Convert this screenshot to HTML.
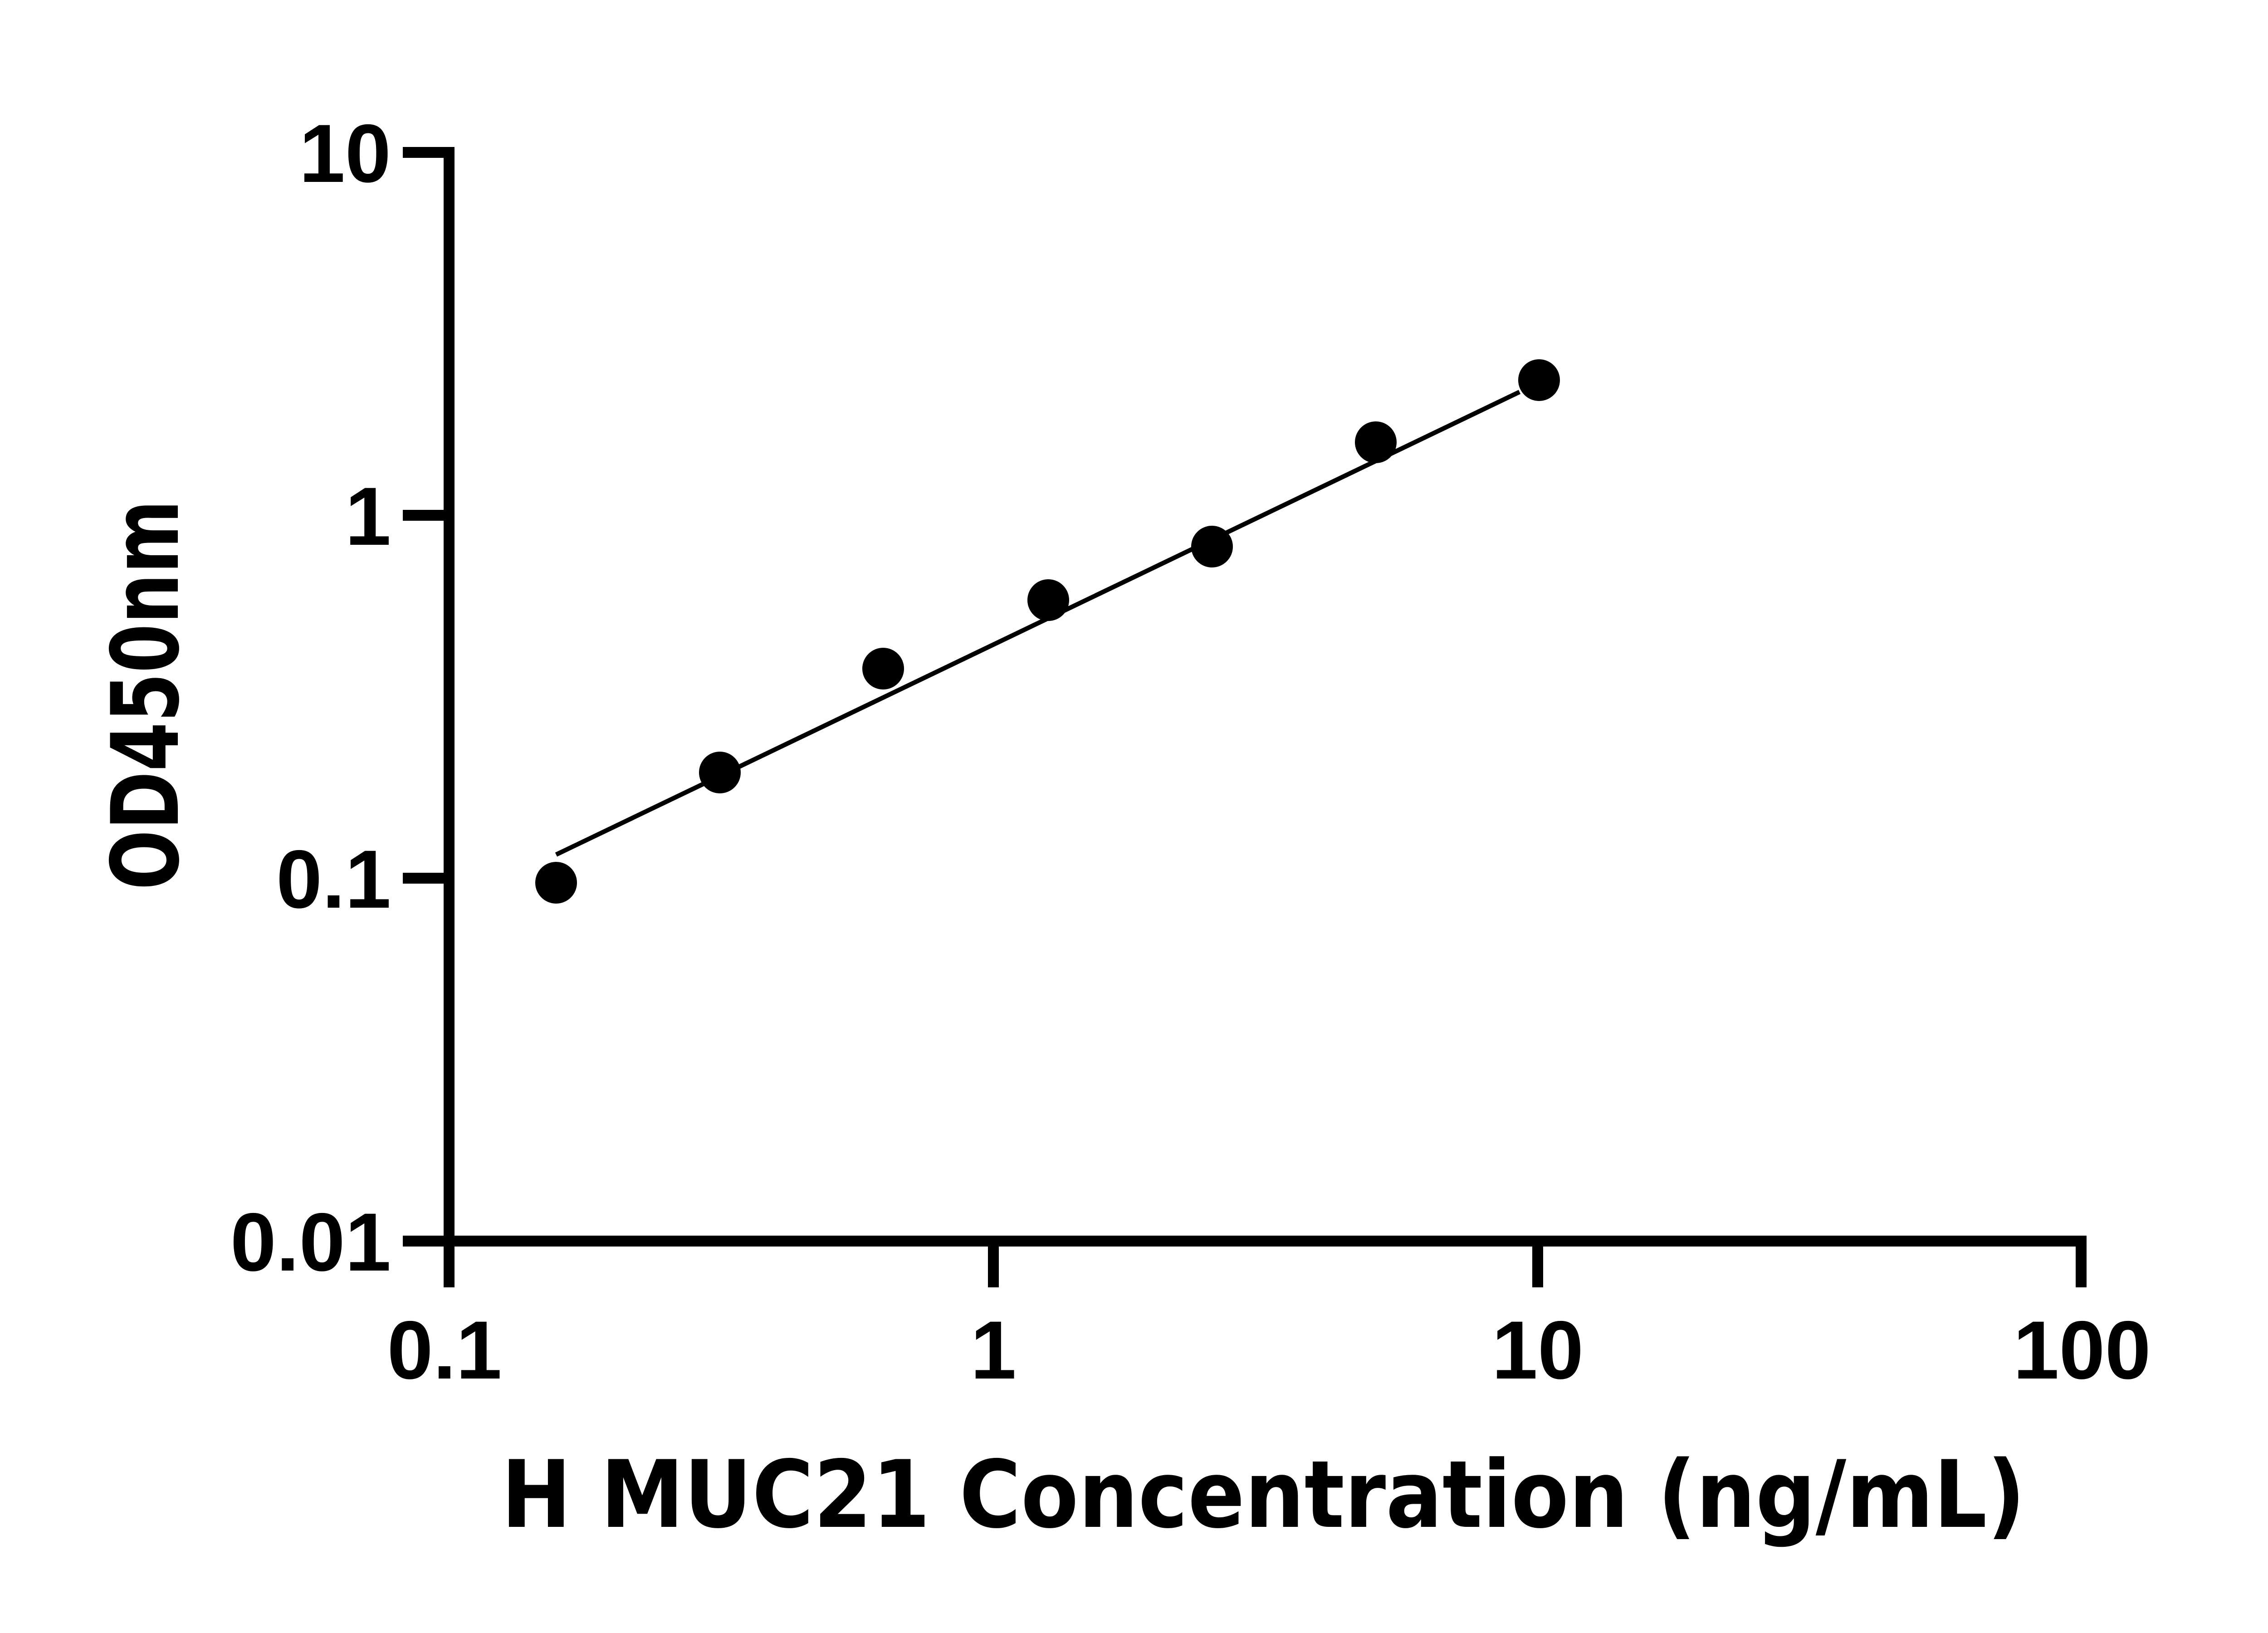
<!DOCTYPE html>
<html><head><meta charset="utf-8"><style>html,body{margin:0;padding:0;background:#fff}svg{display:block}</style></head>
<body>
<svg width="5142" height="3600" viewBox="0 0 5142 3600" xmlns="http://www.w3.org/2000/svg">
<rect width="5142" height="3600" fill="#fff"/>
<g stroke="#000" stroke-width="24" fill="none">
<line x1="990" y1="324" x2="990" y2="2838"/>
<line x1="888" y1="2736" x2="4600" y2="2736"/>
<line x1="888" y1="336" x2="990" y2="336"/>
<line x1="888" y1="1136" x2="990" y2="1136"/>
<line x1="888" y1="1936" x2="990" y2="1936"/>
<line x1="2190" y1="2736" x2="2190" y2="2838"/>
<line x1="3390" y1="2736" x2="3390" y2="2838"/>
<line x1="4588" y1="2724" x2="4588" y2="2838"/>
</g>
<g font-family="Liberation Sans, Arial, sans-serif" font-weight="bold" font-size="182" fill="#000">
<text x="862" y="401" text-anchor="end">10</text>
<text x="862" y="1201" text-anchor="end">1</text>
<text x="862" y="2001" text-anchor="end">0.1</text>
<text x="862" y="2801" text-anchor="end">0.01</text>
<text x="980" y="3039" text-anchor="middle">0.1</text>
<text x="2190" y="3039" text-anchor="middle">1</text>
<text x="3390" y="3039" text-anchor="middle">10</text>
<text x="4590" y="3039" text-anchor="middle">100</text>
</g>
<text x="2785" y="3366" text-anchor="middle" font-family="DejaVu Sans, sans-serif" font-weight="bold" font-size="205" textLength="3360" lengthAdjust="spacingAndGlyphs">H MUC21 Concentration (ng/mL)</text>
<text transform="translate(392,1532) rotate(-90)" text-anchor="middle" font-family="DejaVu Sans, sans-serif" font-weight="bold" font-size="205" textLength="860" lengthAdjust="spacingAndGlyphs">OD450nm</text>
<line x1="1226" y1="1884" x2="3350" y2="864" stroke="#000" stroke-width="10"/>
<g fill="#000">
<circle cx="1226" cy="1946" r="46"/>
<circle cx="1587" cy="1703" r="46"/>
<circle cx="1947" cy="1474" r="46"/>
<circle cx="2311" cy="1323" r="46"/>
<circle cx="2672" cy="1205" r="46"/>
<circle cx="3033" cy="975" r="46"/>
<circle cx="3393" cy="838" r="46"/>
</g>
</svg>
</body></html>
